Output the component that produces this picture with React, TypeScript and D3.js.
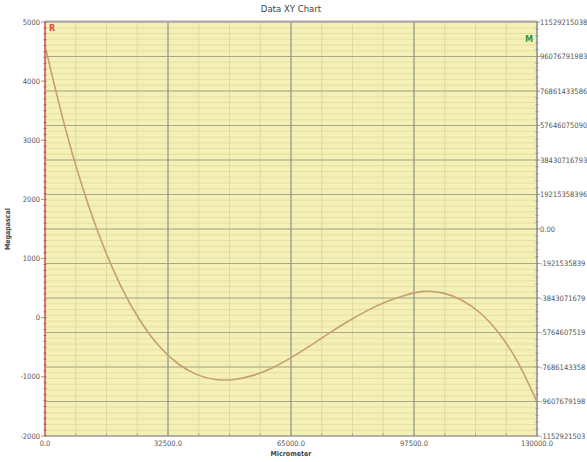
import React from 'react'
import * as d3 from 'd3'

// readings taken off the reference curve (Micrometer -> Megapascal)
const xValues = [0, 5000, 10000, 15000, 20000, 25000, 30000, 35000, 40000, 45000, 50000, 55000, 60000, 65000,
  70000, 75000, 80000, 85000, 90000, 95000, 100000, 105000, 110000, 115000, 120000, 125000, 130000]
const yValues = [4600, 3295, 2190, 1280, 540, -35, -470, -770, -958, -1044, -1045, -975, -850, -675,
  -475, -265, -65, 115, 265, 375, 445, 420, 300, 80, -266, -761, -1425]

const xTicks = [0, 32500, 65000, 97500, 130000]
const leftTicks = [5000, 4000, 3000, 2000, 1000, 0, -1000, -2000]
const rightLabels = ['11529215038', '96076791983', '76861433586', '57646075090', '38430716793',
  '19215358396', '0.00', '-1921535839', '-3843071679', '-5764607519', '-7686143358', '-9607679198',
  '-1152921503']

const W = 587
const H = 462
const m = { left: 45, right: 537, top: 22, bottom: 436 }
const font = "'DejaVu Sans Condensed', 'DejaVu Sans', sans-serif"

export default function App() {
  const x = d3.scaleLinear().domain([0, 130000]).range([m.left, m.right])
  const y = d3.scaleLinear().domain([-2000, 5000]).range([m.bottom, m.top])
  const yr = d3.scalePoint<string>().domain(rightLabels).range([m.top, m.bottom])

  const line = d3.line<number>()
    .x((d, i) => x(xValues[i]))
    .y((d) => y(d))
    .curve(d3.curveNatural)

  // minor grid positions
  const xMinor = d3.range(0, 130001, 32500 / 4)
  const step = yr.step()
  const yMinor = d3.range(m.top, m.bottom + 0.1, step / 6)
  const rightMinor = d3.range(m.top, m.bottom + 0.1, step / 5)
  const leftMinor = d3.range(-2000, 5001, 100)

  return (
    <svg width={W} height={H} style={{ position: 'absolute', left: 0, top: 0 }}>
      <rect x={0} y={0} width={W} height={H} fill="#fff" />
      <text x={291} y={12} textAnchor="middle" fontFamily={font} fontSize={9.5} fill="#444">Data XY Chart</text>

      <rect x={m.left} y={m.top} width={m.right - m.left} height={m.bottom - m.top} fill="#f4f0b6" />

      {yMinor.map((v, i) => (
        <line key={'hm' + i} x1={m.left} x2={m.right} y1={v} y2={v} stroke="#e0da9c" strokeWidth={0.8} />
      ))}
      {xMinor.map((v, i) => (
        <line key={'vm' + i} x1={x(v)} x2={x(v)} y1={m.top} y2={m.bottom} stroke="#e0da9c" strokeWidth={1} />
      ))}
      {rightLabels.map((l) => (
        <line key={'hg' + l} x1={m.left} x2={m.right} y1={yr(l)} y2={yr(l)} stroke="#aaa788" strokeWidth={1} />
      ))}
      {xTicks.map((t) => (
        <line key={'vg' + t} x1={x(t)} x2={x(t)} y1={m.top} y2={m.bottom} stroke="#7f8a88" strokeWidth={1} />
      ))}

      <path d={line(yValues) || ''} fill="none" stroke="#c6a06e" strokeWidth={1.6} />

      {/* frame */}
      <line x1={m.left} x2={m.right} y1={m.top - 0.5} y2={m.top - 0.5} stroke="#a8a8a8" strokeWidth={2} />
      <line x1={m.left} x2={m.right} y1={m.bottom} y2={m.bottom} stroke="#999" strokeWidth={1} />
      <line x1={m.right} x2={m.right} y1={m.top} y2={m.bottom} stroke="#999" strokeWidth={1.2} />
      {rightMinor.map((v, i) => (
        <line key={'rt' + i} x1={m.right - 1.5} x2={m.right + 1.5} y1={v} y2={v} stroke="#888" strokeWidth={0.8} />
      ))}
      {xMinor.map((v, i) => (
        <line key={'bt' + i} x1={x(v)} x2={x(v)} y1={m.bottom - 3} y2={m.bottom} stroke="#999" strokeWidth={0.8} />
      ))}
      <line x1={m.left} x2={m.left} y1={m.top} y2={m.bottom} stroke="#d77878" strokeWidth={2} />
      {leftMinor.map((v) => (
        <line key={'lt' + v} x1={m.left - 1.5} x2={m.left + 1.5} y1={y(v)} y2={y(v)} stroke="#a05050" strokeWidth={0.8} />
      ))}

      {/* left axis */}
      {leftTicks.map((t) => (
        <g key={'ly' + t}>
          <line x1={m.left - 4} x2={m.left} y1={y(t)} y2={y(t)} stroke="#999" />
          <text x={m.left - 5} y={y(t)} dy="0.35em" textAnchor="end" fontFamily={font} fontSize={7.5} fill="#555">{t}</text>
        </g>
      ))}
      <text transform={`translate(10, ${(m.top + m.bottom) / 2}) rotate(-90)`} textAnchor="middle"
        fontFamily={font} fontSize={7} fontWeight="bold" fill="#444">Megapascal</text>

      {/* right axis */}
      {rightLabels.map((l) => (
        <g key={'ry' + l}>
          <line x1={m.right} x2={m.right + 3} y1={yr(l)} y2={yr(l)} stroke="#999" />
          <text x={m.right + 3} y={yr(l)} dy="0.35em" fontFamily={font} fontSize={7.5} fill="#555">{l}</text>
        </g>
      ))}

      {/* bottom axis */}
      {xTicks.map((t) => (
        <text key={'bx' + t} x={x(t)} y={m.bottom + 10} textAnchor="middle" fontFamily={font} fontSize={7.5} fill="#555">
          {t.toFixed(1)}
        </text>
      ))}
      <text x={(m.left + m.right) / 2} y={m.bottom + 20} textAnchor="middle" fontFamily={font} fontSize={7}
        fontWeight="bold" fill="#444">Micrometer</text>

      <text x={m.left + 4} y={m.top + 9} fontFamily={font} fontSize={9} fontWeight="bold" fill="#e04848">R</text>
      <text x={m.right - 12} y={m.top + 20} fontFamily={font} fontSize={9} fontWeight="bold" fill="#2a9a4a">M</text>
    </svg>
  )
}
